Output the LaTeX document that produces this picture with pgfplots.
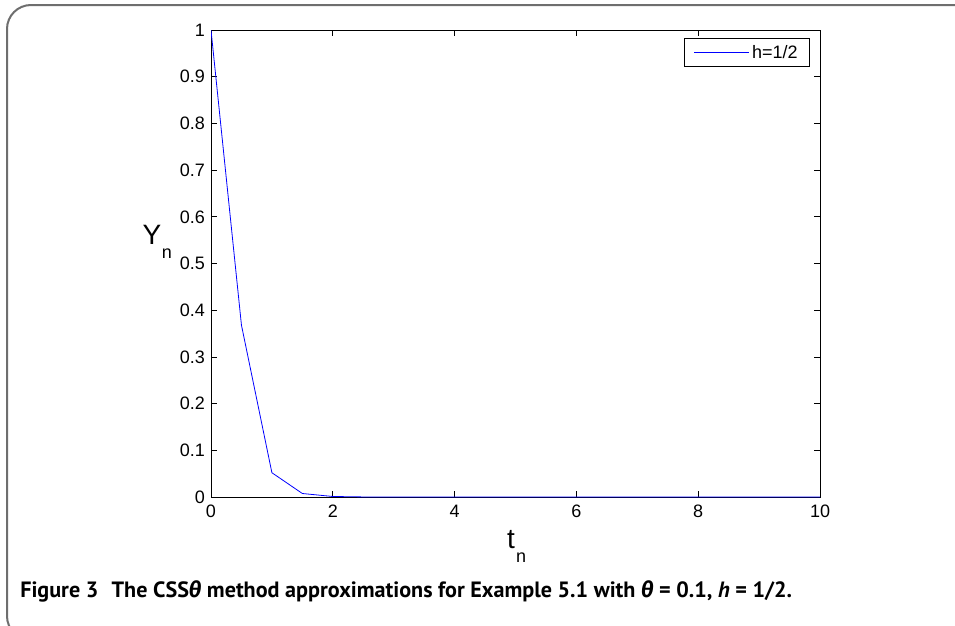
\documentclass[border=0pt]{standalone}
\usepackage{pgfplots}
\pgfplotsset{compat=1.18}
\usepackage{fontspec}
\setmainfont{Liberation Sans}
\newfontfamily\capfont{PT Sans}
\newfontfamily\grkfont{Fira Sans}
\begin{document}
\begin{tikzpicture}
\begin{scope}[x=0.75pt,y=-0.75pt]
\useasboundingbox (0,0) rectangle (955,625);
\begin{scope}
\clip (0,0) rectangle (955,625);
\draw[color={rgb,255:red,110;green,110;blue,110}, line width=1.5pt, rounded corners=18pt] (7,5) rectangle (1000,640);
\end{scope}
\node[anchor=base, font=\fontsize{21}{24}\selectfont, inner sep=0] at (152,244) {Y};
\node[anchor=base, font=\fontsize{13.5}{16}\selectfont, inner sep=0] at (167,258) {n};
\node[anchor=base, font=\fontsize{21}{24}\selectfont, inner sep=0] at (511,548) {t};
\node[anchor=base, font=\fontsize{13.5}{16}\selectfont, inner sep=0] at (521,562) {n};
\node[anchor=base west, inner sep=0, font=\capfont\bfseries\fontsize{16.6}{19}\selectfont] at (20,597)
{Figure 3\hspace{0.6em}The CSS{\grkfont\itshape θ} method approximations for Example 5.1 with {\grkfont\itshape θ} = 0.1, \textit{h} = 1/2.};
\end{scope}
\begin{axis}[
  at={(158.25pt,-22.5pt)}, anchor=north west,
  scale only axis, width=456.75pt, height=350.25pt,
  xmin=0, xmax=10, ymin=0, ymax=1,
  xtick={0,2,4,6,8,10},
  ytick={0,0.1,0.2,0.3,0.4,0.5,0.6,0.7,0.8,0.9,1},
  yticklabels={0,0.1,0.2,0.3,0.4,0.5,0.6,0.7,0.8,0.9,1},
  tick align=inside, tick pos=both,
  major tick length=4.5pt,
  tick style={black, line width=0.5pt},
  axis line style={line width=0.6pt},
  tick label style={font=\fontsize{13.5}{16}\selectfont},
  /pgf/number format/assume math mode=true,
  xticklabel style={yshift=-2.5pt},
  yticklabel style={xshift=-1pt},
  legend style={at={(1,1)}, anchor=north east, xshift=-7.5pt, yshift=-6pt,
    font=\fontsize{13.5}{16}\selectfont, draw=black, line width=0.5pt,
    inner xsep=7pt, inner ysep=3pt},
  legend cell align=left,
  legend image code/.code={\draw[blue, line width=0.6pt] (0cm,0cm) -- (1.45cm,0cm);},
]
\addplot[blue, line width=0.6pt] coordinates {
(0,1) (0.5,0.368) (1,0.052) (1.5,0.0075) (2,0.0011) (2.5,0.00016) (3,0.00002)
(3.5,0) (4,0) (4.5,0) (5,0) (5.5,0) (6,0) (6.5,0) (7,0) (7.5,0) (8,0) (8.5,0) (9,0) (9.5,0) (10,0)};
\addlegendentry{h=1/2}
\end{axis}
\end{tikzpicture}
\end{document}
